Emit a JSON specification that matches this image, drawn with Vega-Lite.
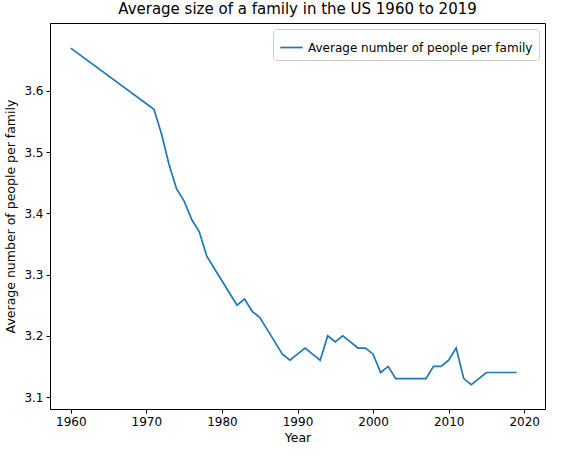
{
"$schema":"https://vega.github.io/schema/vega-lite/v6.json",
"width":495,"height":386,
"padding":{"left":4,"top":2,"right":5,"bottom":2},
"title":{"text":"Average size of a family in the US 1960 to 2019","font":"DejaVu Sans","fontSize":15,"fontWeight":"normal","color":"black","offset":6},
"config":{"view":{"stroke":"black","strokeWidth":1},"font":"DejaVu Sans"},
"data":{"values":[
{"Year":1960,"v":3.67},{"Year":1971,"v":3.57},{"Year":1972,"v":3.53},{"Year":1973,"v":3.48},{"Year":1974,"v":3.44},{"Year":1975,"v":3.42},{"Year":1976,"v":3.39},{"Year":1977,"v":3.37},{"Year":1978,"v":3.33},{"Year":1979,"v":3.31},{"Year":1980,"v":3.29},{"Year":1981,"v":3.27},{"Year":1982,"v":3.25},{"Year":1983,"v":3.26},{"Year":1984,"v":3.24},{"Year":1985,"v":3.23},{"Year":1986,"v":3.21},{"Year":1987,"v":3.19},{"Year":1988,"v":3.17},{"Year":1989,"v":3.16},{"Year":1990,"v":3.17},{"Year":1991,"v":3.18},{"Year":1992,"v":3.17},{"Year":1993,"v":3.16},{"Year":1994,"v":3.2},{"Year":1995,"v":3.19},{"Year":1996,"v":3.2},{"Year":1997,"v":3.19},{"Year":1998,"v":3.18},{"Year":1999,"v":3.18},{"Year":2000,"v":3.17},{"Year":2001,"v":3.14},{"Year":2002,"v":3.15},{"Year":2003,"v":3.13},{"Year":2004,"v":3.13},{"Year":2005,"v":3.13},{"Year":2006,"v":3.13},{"Year":2007,"v":3.13},{"Year":2008,"v":3.15},{"Year":2009,"v":3.15},{"Year":2010,"v":3.16},{"Year":2011,"v":3.18},{"Year":2012,"v":3.13},{"Year":2013,"v":3.12},{"Year":2014,"v":3.13},{"Year":2015,"v":3.14},{"Year":2016,"v":3.14},{"Year":2017,"v":3.14},{"Year":2018,"v":3.14},{"Year":2019,"v":3.14}
]},
"mark":{"type":"line","strokeWidth":1.7,"clip":true},
"encoding":{
"x":{"field":"Year","type":"quantitative","scale":{"domain":[1957.25,2022.75],"nice":false,"zero":false},
"axis":{"values":[1960,1970,1980,1990,2000,2010,2020],"format":"d","grid":false,"title":"Year","titleFont":"DejaVu Sans","titleFontSize":12.5,"titleFontWeight":"normal","titleColor":"black","labelFontSize":12,"labelColor":"black","tickColor":"black","domainColor":"black","tickSize":4,"labelPadding":3,"titlePadding":4}},
"y":{"field":"v","type":"quantitative","scale":{"domain":[3.0804,3.711],"nice":false,"zero":false},
"axis":{"values":[3.1,3.2,3.3,3.4,3.5,3.6],"format":".1f","grid":false,"title":"Average number of people per family","titleFontSize":12.5,"titleFontWeight":"normal","titleColor":"black","labelFontSize":12,"labelColor":"black","tickColor":"black","domainColor":"black","tickSize":4,"labelPadding":3,"titlePadding":6}},
"color":{"datum":"Average number of people per family","type":"nominal","scale":{"range":["#1f77b4"]},
"legend":{"title":null,"orient":"top-right","symbolType":"stroke","symbolStrokeWidth":1.7,"symbolSize":500,"labelFontSize":12,"labelLimit":0,"labelColor":"black","strokeColor":"#cccccc","fillColor":"white","padding":6,"cornerRadius":3,"offset":6}}
}
}
